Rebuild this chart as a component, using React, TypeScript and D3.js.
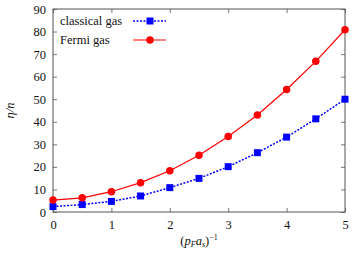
import React, { useEffect, useRef } from 'react';
import * as d3 from 'd3';

const xValues = [0, 0.5, 1, 1.5, 2, 2.5, 3, 3.5, 4, 4.5, 5];
const classicalGas = [2.4, 3.3, 4.7, 7.1, 10.8, 14.9, 20.1, 26.3, 33.2, 41.3, 50.0];
const fermiGas = [5.3, 6.3, 9.0, 13.0, 18.3, 25.2, 33.5, 43.0, 54.3, 66.8, 80.8];
const xTicks = [0, 1, 2, 3, 4, 5];
const yTicks = [0, 10, 20, 30, 40, 50, 60, 70, 80, 90];

const W = 354;
const H = 254;
const margin = { left: 53, right: 9, top: 9, bottom: 42 };
const font = '"Liberation Serif", serif';

const App = () => {
  const ref = useRef<SVGSVGElement>(null);

  useEffect(() => {
    const svg = d3.select(ref.current);
    svg.selectAll('*').remove();

    const x = d3.scaleLinear().domain([0, 5]).range([margin.left, W - margin.right]);
    const y = d3.scaleLinear().domain([0, 90]).range([H - margin.bottom, margin.top]);

    const tickLen = 4;
    const fmt = d3.format('d');
    const g = svg.append('g');

    // mirrored inward ticks
    g.append('g')
      .attr('transform', `translate(0,${y(0)})`)
      .call(d3.axisBottom(x).tickValues(xTicks).tickFormat(fmt).tickSizeInner(-tickLen).tickSizeOuter(0).tickPadding(8));
    g.append('g')
      .attr('transform', `translate(0,${y(90)})`)
      .call(d3.axisTop(x).tickValues(xTicks).tickSizeInner(-tickLen).tickSizeOuter(0).tickFormat(() => ''));
    g.append('g')
      .attr('transform', `translate(${x(0)},0)`)
      .call(d3.axisLeft(y).tickValues(yTicks).tickFormat(fmt).tickSizeInner(-tickLen).tickSizeOuter(0).tickPadding(7));
    g.append('g')
      .attr('transform', `translate(${x(5)},0)`)
      .call(d3.axisRight(y).tickValues(yTicks).tickSizeInner(-tickLen).tickSizeOuter(0).tickFormat(() => ''));

    g.selectAll('g').attr('font-family', null);
    g.selectAll('.domain').remove();
    g.selectAll('.tick line').attr('stroke', '#555').attr('stroke-width', 0.8);
    g.selectAll('.tick text').style('font-family', font).attr('font-size', 12.5).attr('fill', '#111');

    svg.append('rect')
      .attr('x', x(0)).attr('y', y(90))
      .attr('width', x(5) - x(0)).attr('height', y(0) - y(90))
      .attr('fill', 'none').attr('stroke', '#555').attr('stroke-width', 1);

    const series = [
      { name: 'classical gas', values: classicalGas, color: '#0000ff', dash: '2,1.5', width: 1.5, marker: 'square' },
      { name: 'Fermi gas', values: fermiGas, color: '#ff0000', dash: null, width: 1.2, marker: 'circle' },
    ];

    const line = d3.line<number>().x((_, i) => x(xValues[i])).y((d) => y(d));

    series.forEach((s, si) => {
      svg.append('path')
        .attr('d', line(s.values))
        .attr('fill', 'none')
        .attr('stroke', s.color)
        .attr('stroke-width', s.width)
        .attr('stroke-dasharray', s.dash);

      const sym = d3.symbol().type(s.marker === 'square' ? d3.symbolSquare : d3.symbolCircle).size(s.marker === 'square' ? 49 : 44);
      svg.append('g')
        .selectAll('path')
        .data(s.values)
        .enter()
        .append('path')
        .attr('d', sym)
        .attr('transform', (d, i) => `translate(${x(xValues[i])},${y(d)})`)
        .attr('fill', s.color);

      // legend
      const ly = 21 + si * 19;
      svg.append('text')
        .attr('x', 60).attr('y', ly + 4)
        .style('font-family', font).attr('font-size', 12.5).attr('fill', '#111')
        .text(s.name);
      svg.append('line')
        .attr('x1', 133).attr('x2', 166).attr('y1', ly).attr('y2', ly)
        .attr('stroke', s.color).attr('stroke-width', s.width)
        .attr('stroke-dasharray', s.dash);
      svg.append('path').attr('d', sym).attr('transform', `translate(150,${ly})`).attr('fill', s.color);
    });

    // axis labels
    svg.append('text')
      .attr('transform', `translate(14,${(y(0) + y(90)) / 2}) rotate(-90)`)
      .attr('text-anchor', 'middle')
      .style('font-family', font).attr('font-size', 12.5).attr('font-style', 'italic').attr('fill', '#111')
      .text('η/n');

    const xl = svg.append('text')
      .attr('x', (x(0) + x(5)) / 2).attr('y', 245)
      .attr('text-anchor', 'middle')
      .style('font-family', font).attr('font-size', 12.5).attr('fill', '#111');
    xl.append('tspan').text('(');
    xl.append('tspan').attr('font-style', 'italic').text('p');
    xl.append('tspan').attr('font-style', 'italic').attr('font-size', 8).attr('dy', 2).text('F');
    xl.append('tspan').attr('font-style', 'italic').attr('dy', -2).text('a');
    xl.append('tspan').attr('font-style', 'italic').attr('font-size', 8).attr('dy', 2).text('s');
    xl.append('tspan').attr('dy', -2).text(')');
    xl.append('tspan').attr('font-size', 8).attr('dy', -5).text('−1');
  }, []);

  return <svg ref={ref} width={W} height={H} style={{ position: 'absolute', left: 0, top: 0 }} />;
};

export default App;
